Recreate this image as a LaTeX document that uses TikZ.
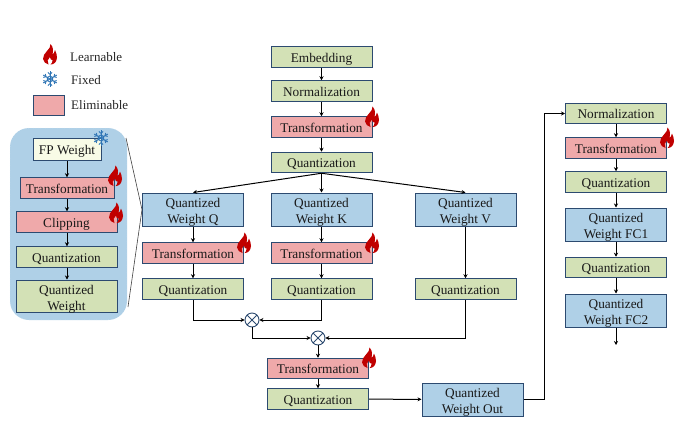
\documentclass[tikz,border=0pt]{standalone}
\usepackage{fontspec}
\setmainfont{Liberation Serif}
\usetikzlibrary{arrows.meta}
\definecolor{gfill}{HTML}{D3E1B6}
\definecolor{pfill}{HTML}{EFA9AA}
\definecolor{bfill}{HTML}{AFD0E7}
\definecolor{yfill}{HTML}{F8FBE6}
\definecolor{edgec}{HTML}{2C4A70}
\definecolor{flamec}{HTML}{C00000}
\definecolor{snowc}{HTML}{2F75B5}
\tikzset{
  x=1pt,y=-1pt,
  box/.style={draw=edgec,line width=1pt,inner sep=0pt,align=center,font=\fontsize{13.3}{16}\selectfont,text=black!90,minimum width=101pt,minimum height=20.5pt,text height=12.6pt,text depth=2.6pt},
  tall/.style={minimum height=33pt,text height=30pt,text depth=1.8pt},
  green/.style={box,fill=gfill},
  pink/.style={box,fill=pfill},
  blue/.style={box,tall,fill=bfill},
  arr/.style={draw=black,line width=1pt,-{Stealth[length=4pt,width=4pt]}},
  zoomline/.style={draw=black!75,line width=.6pt},
  mult/.style={circle,draw=edgec,line width=.9pt,fill=white,minimum size=14pt,inner sep=0pt,
    path picture={\draw[edgec,line width=.8pt]
      (path picture bounding box.north west)--(path picture bounding box.south east)
      (path picture bounding box.north east)--(path picture bounding box.south west);}},
  legendtext/.style={inner sep=0pt,anchor=west,font=\fontsize{13}{15}\selectfont,text=black!85,text height=12.6pt,text depth=2.6pt},
  flame/.pic={
    \fill[flamec] (0.5,-10.5) .. controls (1,-7.5) and (-1,-6) .. (-3,-3.5)
      .. controls (-5,-1) and (-7.5,1.5) .. (-7,4.5)
      .. controls (-6.7,7.5) and (-4,9.5) .. (-1.5,10)
      .. controls (-3.2,7.5) and (-2.6,4) .. (0,2.5)
      .. controls (.2,4.5) and (1,5.8) .. (2.6,5.6)
      .. controls (2.6,7.5) and (1.6,9.2) .. (0.5,10.1)
      .. controls (4,10) and (6.8,7.5) .. (7,3)
      .. controls (7.1,0.5) and (6,-2.5) .. (5,-4.5)
      .. controls (4.6,-2.5) and (3.8,-.6) .. (2.2,0)
      .. controls (3.5,-2.5) and (3.6,-7.5) .. (0.5,-10.5) -- cycle;
  },
  snow/.pic={
    \begin{scope}[snowc]
      \draw[line width=1pt] (30:3) -- (90:3) -- (150:3) -- (210:3) -- (270:3) -- (330:3) -- cycle;
      \foreach \a in {30,90,150,210,270,330}{
        \draw[line width=1pt] (0,0) -- (\a:7.8);
        \draw[line width=.9pt] (\a:4.6) -- ++(\a+45:2.8);
        \draw[line width=.9pt] (\a:4.6) -- ++(\a-45:2.8);
      }
    \end{scope}
  },
}
\begin{document}
\begin{tikzpicture}
\useasboundingbox (0,0) rectangle (689,424);
\node[draw=white!70!bfill,dotted,fill=bfill,rounded corners=19pt,minimum width=117pt,minimum height=192pt,inner sep=0pt] (panel) at (68.5,224) {};

% legend
\pic at (50,54.5) {flame};
\pic at (50,79) {snow};
\node[pink,minimum width=31pt,minimum height=20pt] (legbox) at (48.5,105) {};
\node[legendtext] (leg1) at (70,56.5) {Learnable};
\node[legendtext] (leg2) at (71,79.5) {Fixed};
\node[legendtext] (leg3) at (71,104.5) {Eliminable};

% left panel
\node[box,fill=yfill,minimum width=68pt,minimum height=22.5pt] (fp) at (67,149.5) {FP Weight};
\node[pink,minimum width=94pt] (lt) at (67,188) {Transformation};
\node[pink] (lc) at (66.5,222) {Clipping};
\node[green] (lq) at (66.5,257) {Quantization};
\node[green,tall,minimum height=32pt] (lw) at (66.5,296) {Quantized\\Weight};
\draw[arr] (fp) -- (lt);
\draw[arr] (lt.south -| fp) -- (lc.north -| fp);
\draw[arr] (lc.south -| fp) -- (lq.north -| fp);
\draw[arr] (lq.south -| fp) -- (lw.north -| fp);

% centre top
\node[green] (emb) at (321.5,57) {Embedding};
\node[green] (nor) at (321.5,91) {Normalization};
\node[pink] (tra) at (321.5,127) {Transformation};
\node[green] (qua) at (321.5,162.5) {Quantization};
\node[blue] (wq) at (193,209.5) {Quantized\\Weight Q};
\node[blue] (wk) at (321.5,209.5) {Quantized\\Weight K};
\node[blue] (wv) at (465.5,209.5) {Quantized\\Weight V};
\node[pink] (tq) at (193,253) {Transformation};
\node[pink] (tk) at (321.5,253) {Transformation};
\node[green] (qq) at (193,289) {Quantization};
\node[green] (qk) at (321.5,289) {Quantization};
\node[green] (qv) at (465.5,289) {Quantization};
\node[mult] (m1) at (252,320) {};
\node[mult] (m2) at (318,338) {};
\node[pink] (tb) at (318,368.5) {Transformation};
\node[green] (qb) at (318,399) {Quantization};
\node[blue] (wo) at (472.5,399.5) {Quantized\\Weight Out};

% right column
\node[green] (rn) at (616,113.5) {Normalization};
\node[pink] (rt) at (616,148) {Transformation};
\node[green] (rq1) at (616,182) {Quantization};
\node[blue] (fc1) at (616,224.5) {Quantized\\Weight FC1};
\node[green] (rq2) at (616,267.5) {Quantization};
\node[blue] (fc2) at (616,310.5) {Quantized\\Weight FC2};
\coordinate (endp) at (616,345);

% connectors
\draw[arr] (emb) -- (nor);
\draw[arr] (nor) -- (tra);
\draw[arr] (tra) -- (qua);
\draw[arr] (qua.south) -- (wk.north);
\draw[arr] (qua.south) -- (wq.north);
\draw[arr] (qua.south) -- (wv.north);
\draw[arr] (wq) -- (tq);
\draw[arr] (tq) -- (qq);
\draw[arr] (wk) -- (tk);
\draw[arr] (tk) -- (qk);
\draw[arr] (wv) -- (qv);
\draw[arr] (qq.south) |- (m1.west);
\draw[arr] (qk.south) |- (m1.east);
\draw[arr] (m1.south) |- (m2.west);
\draw[arr] (qv.south) |- (m2.east);
\draw[arr] (m2) -- (tb);
\draw[arr] (tb) -- (qb);
\draw[arr] (qb) -- (wo);
\coordinate (bend) at (544,399.5);
\draw[arr] (wo.east) -- (bend) |- (rn.west);
\draw[arr] (rn) -- (rt);
\draw[arr] (rt) -- (rq1);
\draw[arr] (rq1) -- (fc1);
\draw[arr] (fc1) -- (rq2);
\draw[arr] (rq2) -- (fc2);
\draw[arr] (fc2) -- (endp);

% zoom lines
\coordinate (za) at (126,138);
\coordinate (zb) at (128,307);
\draw[zoomline] (za) -- (wq.west) -- (zb);

% icons
\pic at (372,117) {flame};
\pic at (244,243) {flame};
\pic at (372,243) {flame};
\pic at (369,358) {flame};
\pic at (667,138) {flame};
\pic at (115,176) {flame};
\pic at (116,213) {flame};
\pic at (101,138) {snow};
\end{tikzpicture}
\end{document}
